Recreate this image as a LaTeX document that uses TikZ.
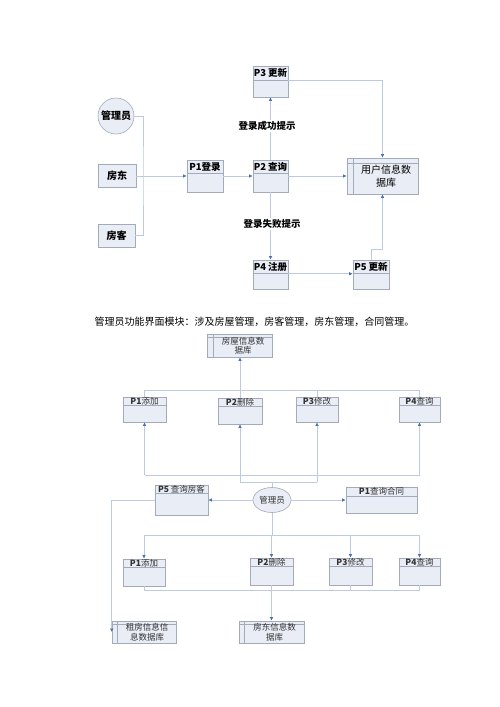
\documentclass[tikz,border=0pt]{standalone}
\usepackage{fontspec}
\setmainfont{Noto Sans CJK SC}
\usetikzlibrary{arrows.meta,shapes.geometric}
\definecolor{boxf}{HTML}{E9EDF5}
\definecolor{boxd}{HTML}{A3ABBA}
\definecolor{lnc}{HTML}{BCCBE0}
\definecolor{arc}{HTML}{4A70B5}
\definecolor{txl}{HTML}{333333}
\newcommand{\procbox}[8]{%
  \node[bx,minimum width=#4pt,minimum height=#5pt] (#1) at (#2,#3) {};
  \draw[boxd,line width=0.6pt] ([yshift=-#6pt]#1.north west) -- ([yshift=-#6pt]#1.north east);
  \node[font=#8,inner sep=0pt] (#1t) at ([yshift={-0.5*#6pt}]#1.north) {#7};
}
\newcommand{\dbbox}[9]{%
  \node[bx,minimum width=#4pt,minimum height=#5pt] (#1) at (#2,#3) {};
  \draw[boxd,line width=0.6pt] ([xshift=#6pt]#1.north west) -- ([xshift=#6pt]#1.south west);
  \draw[boxd,line width=0.6pt] ([yshift=-#7pt]#1.north west) -- ([yshift=-#7pt]#1.north east);
  \node[font=#9,align=center,inner sep=0pt] (#1t) at ([xshift={0.5*#6pt}]#1.center) {#8};
}
\begin{document}
\begin{tikzpicture}[x=1pt,y=-1pt,
  bx/.style={draw=boxd,fill=boxf,line width=0.6pt,inner sep=0pt},
  ln/.style={draw=lnc,line width=0.7pt},
  ar/.style={ln,-{Latex[length=3.5pt,width=3.5pt,color=arc]}},
  lab/.style={fill=white,inner sep=1pt,font=\bfseries\fontsize{9.5}{11}\selectfont}]
\useasboundingbox[fill=white] (0,0) rectangle (500,707);

% ---------- top diagram ----------
\node[bx,circle,minimum size=36pt,font=\bfseries\fontsize{10}{12}\selectfont] (adm) at (116,116) {管理员};
\node[bx,minimum width=38pt,minimum height=23pt,font=\bfseries\fontsize{10}{12}\selectfont] (fd) at (117,176) {房东};
\node[bx,minimum width=37pt,minimum height=23pt,font=\bfseries\fontsize{10}{12}\selectfont] (fk) at (116.5,235.5) {房客};
\procbox{p1}{205}{176}{36}{32}{14}{P1登录}{\bfseries\fontsize{9.5}{11}\selectfont}
\procbox{p2}{270.5}{176}{35}{32}{14}{P2 查询}{\bfseries\fontsize{9.5}{11}\selectfont}
\procbox{p3}{270.5}{81.5}{35}{31}{15}{P3 更新}{\bfseries\fontsize{9.5}{11}\selectfont}
\procbox{p4}{270.5}{274.5}{35}{29}{14}{P4 注册}{\bfseries\fontsize{9.5}{11}\selectfont}
\procbox{p5}{371}{274.5}{36}{29}{14}{P5 更新}{\bfseries\fontsize{9.5}{11}\selectfont}
\dbbox{db1}{382.5}{176}{71}{36}{7}{6}{用户信息数\\据库}{\fontsize{10}{13}\selectfont}

\coordinate (bj) at (143,176);
\draw[ln] (adm.east) -| (bj) |- (fk.east);
\draw[ar] (fd.east) -- (p1.west);
\draw[ar] (p1.east) -- (p2.west);
\draw[ar] (p2.east) -- (db1.west);
\draw[ar] (p2.north) -- (p3.south);
\draw[ar] (p2.south) -- (p4.north);
\draw[ar] ([yshift=-15pt]p3.north east) -| (db1.north);
\draw[ar] ([yshift=-14pt]p4.north east) -- ([yshift=-14pt]p5.north west);
\draw[ar] (p5.north) -- ++(0,-10) -| (db1.south);
\node[lab] (l1) at (267,126) {登录成功提示};
\node[lab] (l2) at (272,224) {登录失败提示};

% ---------- caption ----------
\node[font=\fontsize{10}{12}\selectfont,inner sep=0pt] (cap) at (254.5,322) {管理员功能界面模块：涉及房屋管理，房客管理，房东管理，合同管理。};

% ---------- lower diagram ----------
\def\lf{\color{txl}\fontsize{8.5}{9.5}\selectfont}
\dbbox{db2}{240}{345.5}{65}{23}{6}{4}{房屋信息数\\据库}{\color{txl}\fontsize{8.5}{9.5}\selectfont}
\procbox{q1}{144.5}{409.5}{43}{25}{9}{\textbf{P1}添加}{\lf}
\procbox{q2}{240}{411}{44}{26}{9}{\textbf{P2}删除}{\lf}
\procbox{q3}{317}{409.5}{42}{25}{9}{\textbf{P3}修改}{\lf}
\procbox{q4}{419.5}{409.5}{41}{25}{9}{\textbf{P4}查询}{\lf}
\node[bx,ellipse,minimum width=38pt,minimum height=25pt,font=\lf] (adm2) at (272,500) {管理员};
\procbox{q5}{181.5}{500}{53}{30}{9}{\textbf{P5} 查询房客}{\lf}
\procbox{q6}{381.5}{500}{71}{26}{10}{\textbf{P1}查询合同}{\lf}
\procbox{r1}{144}{572.5}{42}{27}{9}{\textbf{P1}添加}{\lf}
\procbox{r2}{271.5}{571.5}{43}{27}{9}{\textbf{P2}删除}{\lf}
\procbox{r3}{350.5}{571.5}{43}{27}{9}{\textbf{P3}修改}{\lf}
\procbox{r4}{419.5}{571.5}{41}{27}{9}{\textbf{P4}查询}{\lf}
\dbbox{db3}{144}{632}{64}{22}{6}{4}{租房信息信\\息数据库}{\color{txl}\fontsize{8.5}{9.5}\selectfont}
\dbbox{db4}{271.5}{632}{65}{22}{6}{4}{房东信息数\\据库}{\color{txl}\fontsize{8.5}{9.5}\selectfont}

% top bus to db2
\coordinate (tb) at (0,390);
\draw[ln] (q1.north) -- (q1.north |- tb) -- (q4.north |- tb) -- (q4.north);
\draw[ln] (q3.north) -- (q3.north |- tb);
\draw[ar] (q2.north) -- (db2.south);
% from adm2 up to q boxes
\coordinate (mb) at (0,482);
\coordinate (lb) at (0,475);
\draw[ln] (adm2.north) -- (adm2.north |- mb);
\draw[ln] (q2.south |- mb) -- (q3.south |- mb);
\draw[ar] (q2.south |- mb) -- (q2.south);
\draw[ar] (q3.south |- mb) -- (q3.south);
\draw[ln] (q1.south |- lb) -- (q4.south |- lb);
\draw[ar] (q1.south |- lb) -- (q1.south);
\draw[ar] (q4.south |- lb) -- (q4.south);
% side arrows
\draw[ar] (adm2.west) -- (q5.east);
\draw[ar] (adm2.east) -- (q6.west);
\draw[ar] (q5.west) -| (db3.west);
% down to r boxes
\coordinate (b1) at (0,535);
\draw[ln] (adm2.south) -- (adm2.south |- b1);
\draw[ln] (r1.north |- b1) -- (r4.north |- b1);
\foreach \r in {r1,r2,r3,r4} \draw[ar] (\r.north |- b1) -- (\r.north);
% bottom bus to db4
\coordinate (bb) at (0,590);
\draw[ln] (r1.south) -- (r1.south |- bb) -- (r4.south |- bb) -- (r4.south);
\draw[ln] (r3.south) -- (r3.south |- bb);
\draw[ar] (r2.south) -- (db4.north);
\end{tikzpicture}
\end{document}
